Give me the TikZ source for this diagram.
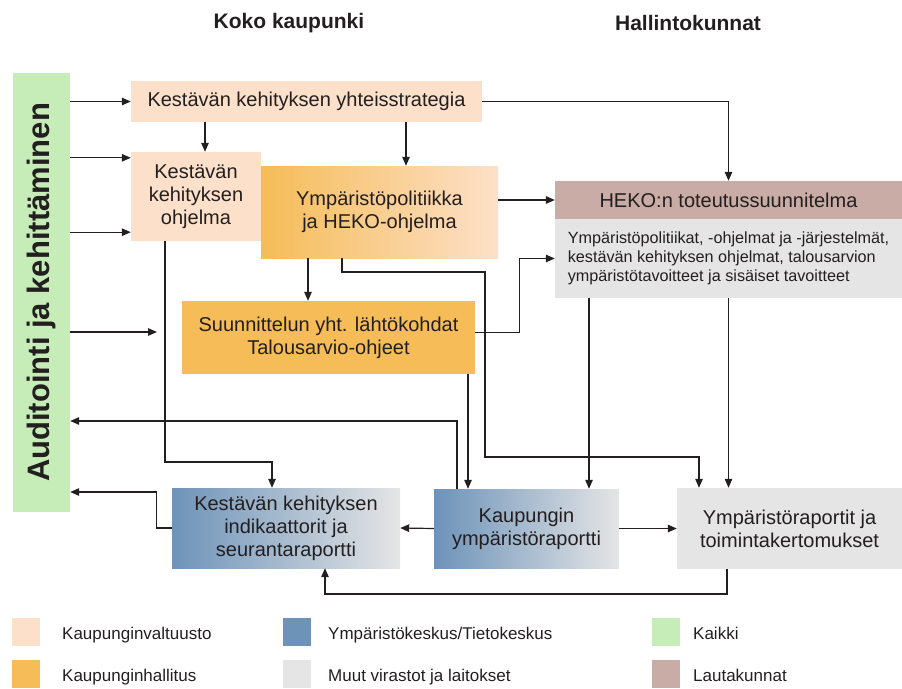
\documentclass[tikz,border=0pt]{standalone}
\usepackage{fontspec}
\setmainfont{Liberation Sans}
\usetikzlibrary{arrows.meta}
\definecolor{valtuusto}{HTML}{FDE0C9}
\definecolor{hallitus}{HTML}{F5BC57}
\definecolor{keskus}{HTML}{6D93B9}
\definecolor{muut}{HTML}{E5E5E5}
\definecolor{kaikki}{HTML}{C6EDB8}
\definecolor{lauta}{HTML}{C9ACA5}
\definecolor{ink}{HTML}{231F20}
\begin{document}
\begin{tikzpicture}[x=1pt,y=-1pt,
  box/.style={inner sep=0pt,align=center,text=ink,font=\fontsize{20}{23}\selectfont},
  legbox/.style={minimum width=28pt,minimum height=28pt,inner sep=0pt},
  legtext/.style={anchor=base west,inner sep=0pt,text=ink,font=\fontsize{17}{20}\selectfont},
  title/.style={text=ink,font=\fontsize{21}{24}\selectfont\bfseries},
  arr/.style={-{Triangle[length=9pt,width=7.5pt]},line width=1.2pt,draw=ink}]
\useasboundingbox (0,0) rectangle (902,688);
%\draw[step=50,gray,very thin] (0,0) grid (902,688);
\node[title] (koko) at (289,23) {Koko kaupunki};
\node[title] (hallk) at (688,23) {Hallintokunnat};
\node[box,fill=kaikki,minimum width=57pt,minimum height=439pt] (audit) at (41.5,292.5)
  {\rotatebox{90}{\fontsize{31}{34}\selectfont\bfseries Auditointi ja kehittäminen}};
\node[box,fill=valtuusto,minimum width=351pt,minimum height=41pt] (strat) at (306.5,101.5) {Kestävän kehityksen yhteisstrategia};
\node[box,fill=valtuusto,minimum width=130pt,minimum height=89pt] (ohj) at (196,196.5) {Kestävän\\kehityksen\\ohjelma};
\node[box,left color=hallitus,right color=valtuusto,minimum width=237pt,minimum height=92pt] (ymp) at (379.5,212) {Ympäristöpolitiikka\\ja HEKO-ohjelma};
\node[box,fill=lauta,minimum width=347pt,minimum height=38pt] (heko) at (728.5,200) {HEKO:n toteutussuunnitelma};
\node[box,fill=muut,minimum width=347pt,minimum height=79pt,align=left,font=\fontsize{16.2}{19}\selectfont] (hekob) at (728.5,258.5)
  {Ympäristöpolitiikat, -ohjelmat ja -järjestelmät,\\kestävän kehityksen ohjelmat, talousarvion\\ympäristötavoitteet ja sisäiset tavoitteet};
\node[box,fill=hallitus,minimum width=293pt,minimum height=73pt] (suun) at (328.5,337.5) {Suunnittelun yht. lähtökohdat\\Talousarvio-ohjeet};
\node[box,left color=keskus,right color=muut,minimum width=228pt,minimum height=80pt] (indik) at (286,528) {Kestävän kehityksen\\indikaattorit ja\\seurantaraportti};
\node[box,left color=keskus,right color=muut,minimum width=185pt,minimum height=79pt] (rap) at (526.5,528.5) {Kaupungin\\ympäristöraportti};
\node[box,fill=muut,minimum width=225pt,minimum height=81pt] (hall) at (789.5,528.5) {Ympäristöraportit ja\\toimintakertomukset};
% arrows from the audit bar
\coordinate (in2) at ([yshift=-6pt]ohj.north west);
\coordinate (in3) at ([yshift=9pt]ohj.south west);
\coordinate (in4) at (157,332);
\draw[arr] (audit.east |- strat.west) -- (strat.west);
\draw[arr] (audit.east |- in2) -- (in2);
\draw[arr] (audit.east |- in3) -- (in3);
\draw[arr] (audit.east |- in4) -- (in4);
% city level
\draw[arr] ([xshift=9pt]ohj.north |- strat.south) -- ([xshift=9pt]ohj.north);
\draw[arr] ([xshift=26.5pt]ymp.north |- strat.south) -- ([xshift=26.5pt]ymp.north);
\draw[arr] (strat.east) -| (heko.north);
\draw[arr] (ymp.east |- heko.west) -- (heko.west);
\draw[arr] ([xshift=-20.5pt]suun.north |- ymp.south) -- ([xshift=-20.5pt]suun.north);
\draw[arr] ([xshift=-37.5pt]ymp.south) |- (485,272) |- (699,457) -- ([xshift=-90.5pt]hall.north);
\draw[arr] ([yshift=5pt]suun.east) -- +(44,0) |- (hekob.west);
\draw[arr] ([xshift=139.5pt]suun.south) -- ([xshift=139.5pt]suun.south |- rap.north);
\draw[arr] ([xshift=-139.5pt]hekob.south) -- ([xshift=-139.5pt]hekob.south |- rap.north);
\draw[arr] (hekob.south) -- (hekob.south |- hall.north);
\draw[arr] ([xshift=-31pt]ohj.south) |- (272,462) -- ([xshift=-14pt]indik.north);
% reports
\draw[arr] ([xshift=-69.5pt]rap.north) |- ([yshift=-128.5pt]audit.east);
\draw[arr] (indik.west) -- ++(-15,0) |- ([yshift=-199.5pt]audit.east);
\draw[arr] (rap.west) -- (indik.east);
\draw[arr] (rap.east) -- (hall.west);
\draw[arr] ([xshift=-62.5pt]hall.south) |- (325,594) -- ([xshift=39pt]indik.south);
% legend
\node[legbox,fill=valtuusto] (l1) at (26,632) {};
\node[legtext] (l1t) at (62,639) {Kaupunginvaltuusto};
\node[legbox,fill=hallitus] (l2) at (26,674) {};
\node[legtext] (l2t) at (62,681) {Kaupunginhallitus};
\node[legbox,fill=keskus] (l3) at (297,632) {};
\node[legtext] (l3t) at (328,639) {Ympäristökeskus/Tietokeskus};
\node[legbox,fill=muut] (l4) at (297,674) {};
\node[legtext] (l4t) at (328,681) {Muut virastot ja laitokset};
\node[legbox,fill=kaikki] (l5) at (666,632) {};
\node[legtext] (l5t) at (693,639) {Kaikki};
\node[legbox,fill=lauta] (l6) at (666,674) {};
\node[legtext] (l6t) at (693,681) {Lautakunnat};
\end{tikzpicture}
\end{document}
